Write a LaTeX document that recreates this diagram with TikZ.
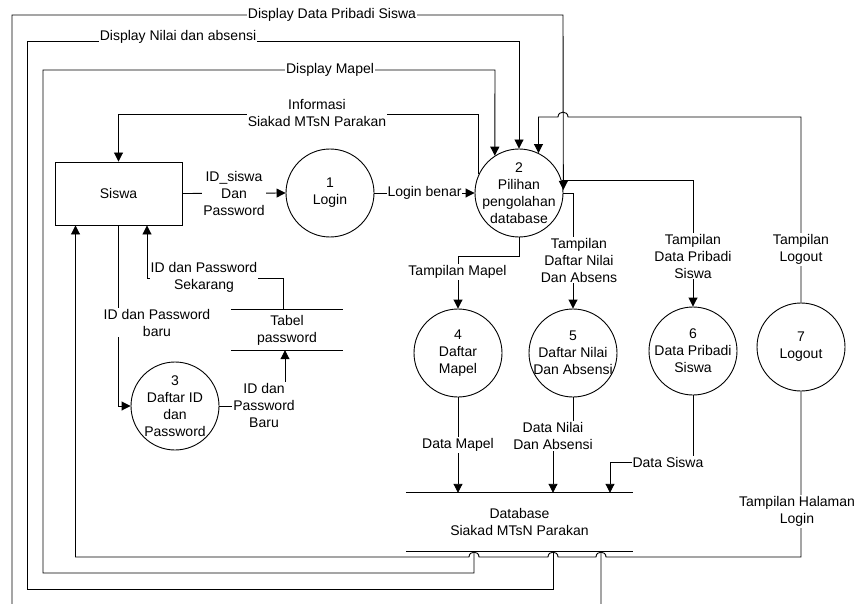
\documentclass[tikz,border=0pt]{standalone}
\usepackage{fontspec}
\setmainfont{Liberation Sans}
\usetikzlibrary{arrows.meta}
\begin{document}
\begin{tikzpicture}[x=1pt,y=-1pt,
  every node/.style={font=\fontsize{14}{17}\selectfont},
  proc/.style={draw, circle, minimum size=88pt, inner sep=0pt, line width=0.9pt},
  ctext/.style={align=center, inner sep=0pt},
  ent/.style={draw, rectangle, minimum width=127pt, minimum height=63pt, line width=0.9pt},
  store/.style={align=center, inner sep=0pt},
  flow/.style={line width=0.9pt, -{Triangle[length=9pt,width=9pt]}},
  plain/.style={line width=0.9pt},
  lbl/.style={fill=white, align=center, inner sep=1pt}]
\useasboundingbox (0,0) rectangle (864,604);

% entities and processes
\node[ent] (sw) at (118.5,193.5) {Siswa};
\node[proc, label={[ctext]center:{1\\Login}}] (c1) at (330,193) {};
\node[proc, label={[ctext]center:{2\\Pilihan\\pengolahan\\database}}] (c2) at (519,193) {};
\node[proc, label={[ctext]center:{3\\Daftar ID\\dan\\Password}}] (c3) at (175,406) {};
\node[proc, label={[ctext]center:{4\\Daftar\\Mapel}}] (c4) at (458,353) {};
\node[proc, label={[ctext]center:{5\\Daftar Nilai\\Dan Absensi}}] (c5) at (573,353) {};
\node[proc, label={[ctext]center:{6\\Data Pribadi\\Siswa}}] (c6) at (693,351) {};
\node[proc, label={[ctext]center:{7\\Logout}}] (c7) at (801,347) {};

% data stores
\node[store, minimum width=112pt, minimum height=40pt] (tp) at (287,330) {Tabel\\password};
\draw[plain] (tp.north west) -- (tp.north east);
\draw[plain] (tp.south west) -- (tp.south east);
\node[store, minimum width=227pt, minimum height=58pt] (db) at (519.5,522) {Database\\Siakad MTsN Parakan};
\draw[plain] (db.north west) -- (db.north east);
\draw[plain] (db.south west) -- (db.south east);

% flows
\draw[flow] (c2.155) |- (118.5,114) -- (sw.north);
\draw[flow] ([xshift=-45.5pt]db.south) |- (43,573) |- (495,70) -- (c2.123);
\draw[flow] ([xshift=33.5pt]db.south) |- (27,589) |- (519,41) -- (c2.north);
\draw[flow] ([xshift=81.5pt]db.south) |- (12,614) |- (563,15) -- (c2.4);
\draw[flow] (c7.north) |- (568,117) .. controls (568,110.5) and (558,110.5) .. (558,117) -| (c2.64);
\draw[flow] (c7.south) |- (606,557)
   .. controls (606,550.5) and (596,550.5) .. (596,557) -- (558,557)
   .. controls (558,550.5) and (548,550.5) .. (548,557) -- (479,557)
   .. controls (479,550.5) and (469,550.5) .. (469,557) -| ([xshift=-43pt]sw.south);
\draw[flow] (sw.east) -- (c1.west);
\draw[flow] (c1.east) -- (c2.west);
\draw[flow] (c2.south) |- (458,256) -- (c4.north);
\draw[flow] (c2.east) -| (c5.north);
\draw[flow] (c2.17) -| (c6.north);
\draw[flow] (c4.south) -- (c4.south |- db.north);
\draw[flow] (c5.south) |- (553,436) -- ([xshift=33.5pt]db.north);
\draw[flow] (c6.south) |- (610,462) -- ([xshift=90.5pt]db.north);
\draw[flow] (sw.south) |- (c3.west);
\draw[flow] (c3.east) -| ([xshift=-2pt]tp.south);
\draw[flow] ([xshift=-4pt]tp.north) |- (147,278) -- ([xshift=28.5pt]sw.south);

% flow labels
\node[lbl] (l1) at (332,15) {Display Data Pribadi Siswa};
\node[lbl] (l2) at (178,37) {Display Nilai dan absensi};
\node[lbl] (l3) at (330,70) {Display Mapel};
\node[lbl] (l4) at (317,112.5) {Informasi\\Siakad MTsN Parakan};
\node[lbl] (l5) at (234,193) {ID\_siswa\\Dan\\Password};
\node[lbl] (l6) at (424.5,193) {Login benar};
\node[lbl] (l7) at (457.5,272) {Tampilan Mapel};
\node[lbl] (l8) at (579,260) {Tampilan\\Daftar Nilai\\Dan Absens};
\node[lbl] (l9) at (693,256) {Tampilan\\Data Pribadi\\Siswa};
\node[lbl] (l10) at (801,249.5) {Tampilan\\Logout};
\node[lbl] (l11) at (458,445) {Data Mapel};
\node[lbl] (l12) at (553,436) {Data Nilai\\Dan Absensi};
\node[lbl] (l13) at (668,462) {Data Siswa};
\node[lbl] (l14) at (797,511.5) {Tampilan Halaman\\Login};
\node[lbl] (l15) at (157,322.5) {ID dan Password\\baru};
\node[lbl] (l16) at (264,405) {ID dan\\Password\\Baru};
\node[lbl] (l17) at (204,277.5) {ID dan Password\\Sekarang};
\end{tikzpicture}
\end{document}
